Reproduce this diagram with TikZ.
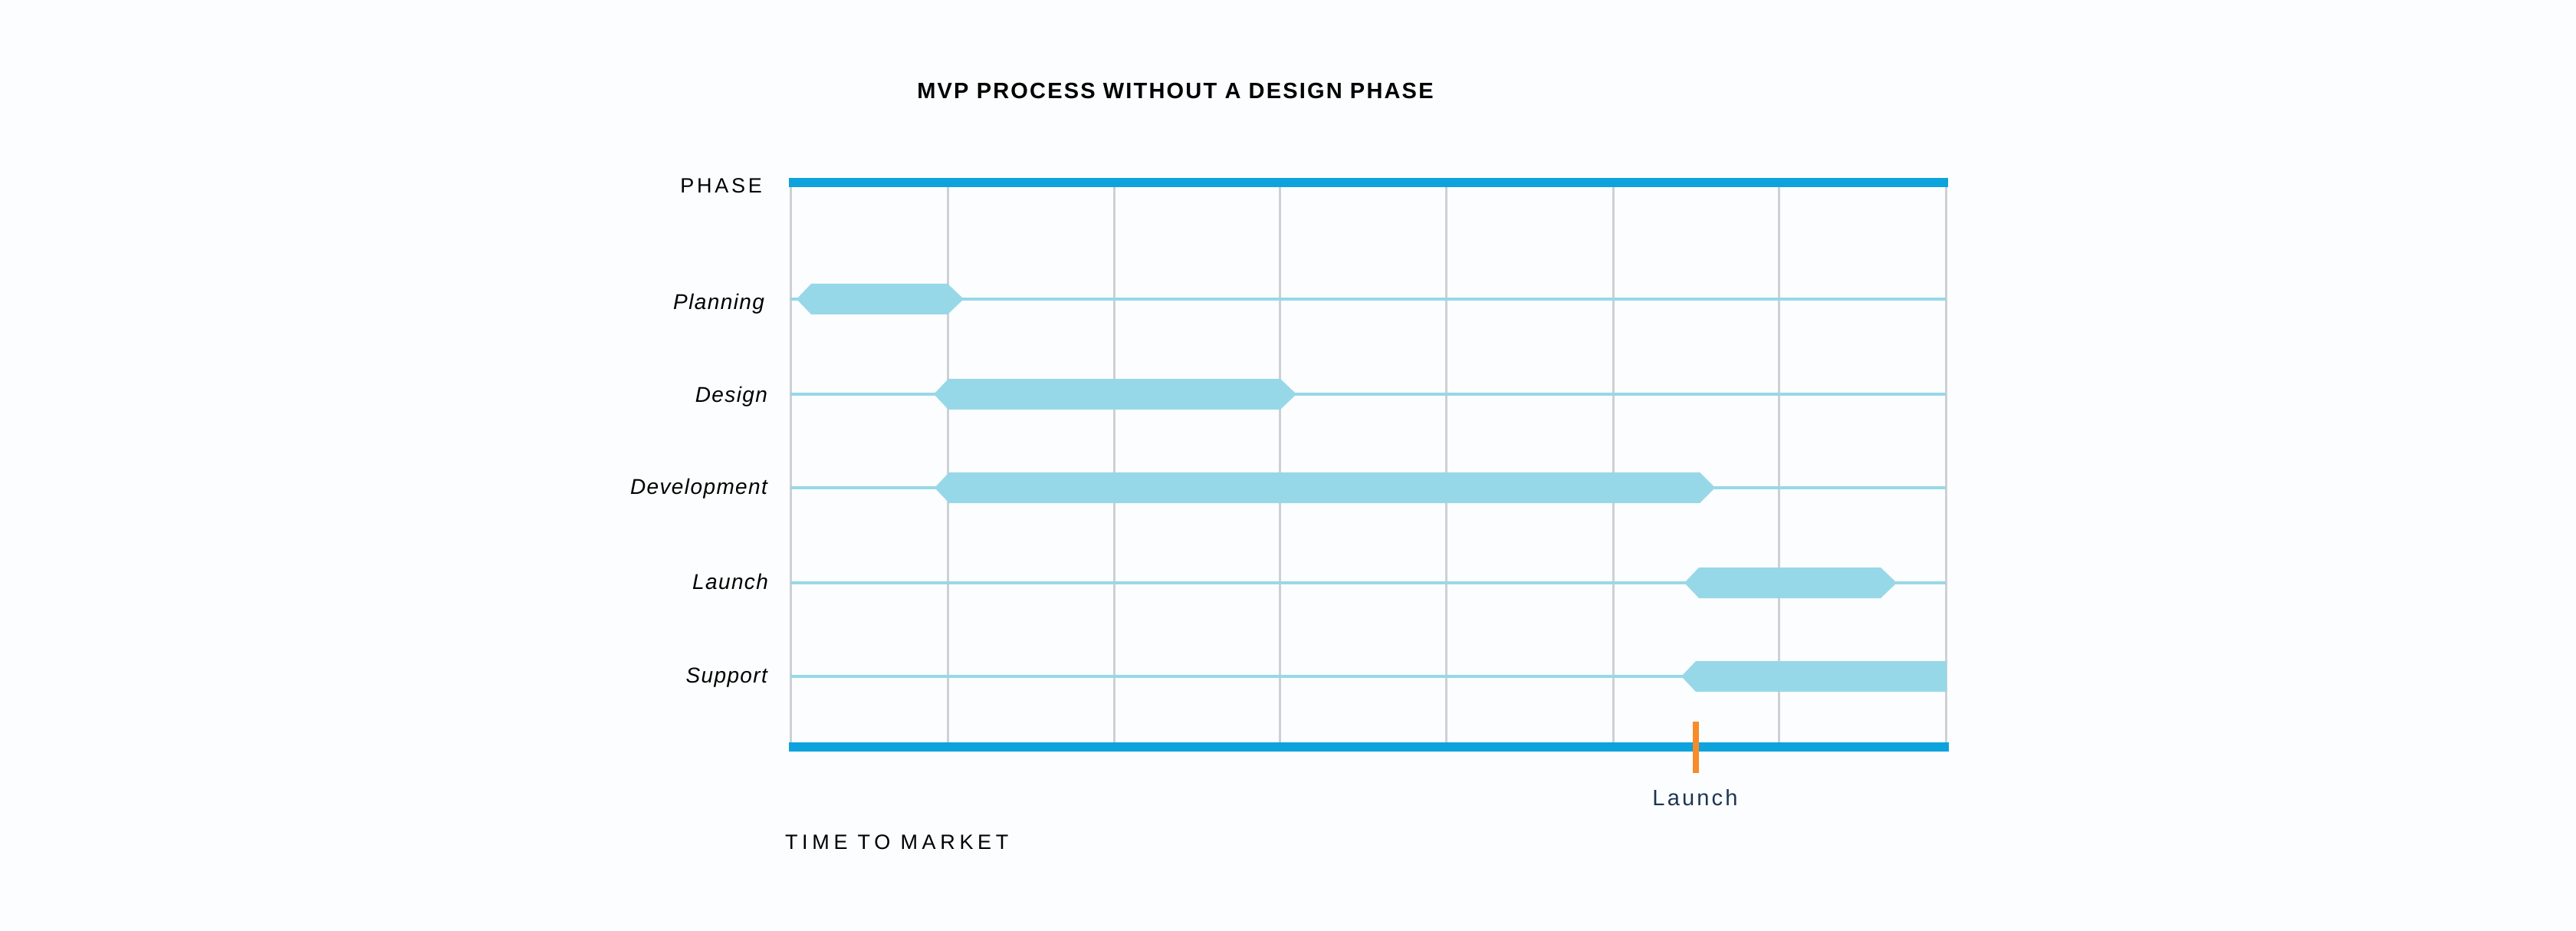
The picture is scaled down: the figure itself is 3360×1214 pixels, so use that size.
\documentclass[tikz,border=0pt]{standalone}
\usepackage{fontspec}
\setmainfont{Liberation Sans}
\newfontfamily\titlefont[LetterSpace=7.5]{Liberation Sans}
\newfontfamily\capsfont[LetterSpace=14]{Liberation Sans}
\newfontfamily\widecaps[LetterSpace=21]{Liberation Sans}
\newfontfamily\rowfont[LetterSpace=5]{Liberation Sans}
\newfontfamily\markfont[LetterSpace=11]{Liberation Sans}
\definecolor{bgc}{RGB}{252,253,254}
\definecolor{axisblue}{RGB}{14,163,220}
\definecolor{barblue}{RGB}{151,216,232}
\definecolor{gridgray}{RGB}{205,208,212}
\definecolor{launchorange}{RGB}{248,139,42}
\definecolor{navy}{RGB}{28,53,83}
\begin{document}
\begin{tikzpicture}[x=1pt,y=-1pt,
  txt/.style={inner sep=0pt,outer sep=0pt},
  rowlabel/.style={txt,anchor=base east,font=\rowfont\itshape\fontsize{28}{32}\selectfont},
  gridline/.style={draw=gridgray,line width=3pt},
  rowline/.style={draw=barblue,line width=4pt},
  axisbar/.style={fill=axisblue},
  ganttbar/.style={fill=barblue}]
\useasboundingbox[fill=bgc] (0,0) rectangle (3360,1214);
% title
\node[txt,anchor=base,font=\titlefont\bfseries\fontsize{29}{32}\selectfont] (title) at (1533,129) {MVP PROCESS WITHOUT A DESIGN PHASE};
\node[txt,anchor=base east,font=\capsfont\fontsize{27}{32}\selectfont] (phase) at (994,252) {PHASE};
\node[txt,anchor=base west,font=\widecaps\fontsize{27}{32}\selectfont] (ttm) at (1024,1107) {TIME TO MARKET};
% grid lines
\foreach \gx in {1031,1236,1453,1669,1886,2104,2320,2538}
  \draw[gridline] (\gx,244) -- (\gx,968);
% row lines
\foreach \ry in {390,514,636,760,882}
  \draw[rowline] (1031,\ry) -- (2538,\ry);
% bars
\fill[ganttbar] (1039,390) -- (1058,370) -- (1236,370) -- (1257,390) -- (1236,410) -- (1058,410) -- cycle;
\fill[ganttbar] (1218,514) -- (1237,494) -- (1670,494) -- (1691,514) -- (1670,534) -- (1237,534) -- cycle;
\fill[ganttbar] (1219,636) -- (1238,616) -- (2217,616) -- (2237,636) -- (2217,656) -- (1238,656) -- cycle;
\fill[ganttbar] (2197,760) -- (2216,740) -- (2453,740) -- (2474,760) -- (2453,780) -- (2216,780) -- cycle;
\fill[ganttbar] (2193,882) -- (2212,862) -- (2539,862) -- (2539,902) -- (2212,902) -- cycle;
% axis bars
\fill[axisbar] (1029,232) rectangle (2541,244);
\fill[axisbar] (1029,968) rectangle (2542,980);
% launch marker
\fill[launchorange] (2208,941) rectangle (2216,1008);
\node[txt,anchor=base,text=navy,font=\markfont\fontsize{29}{32}\selectfont] (launchmark) at (2211,1050) {Launch};
% row labels
\node[rowlabel] (planning) at (997,403) {Planning};
\node[rowlabel] (design) at (1001,524) {Design};
\node[rowlabel] (development) at (1001,644) {Development};
\node[rowlabel] (launch) at (1002,768) {Launch};
\node[rowlabel] (support) at (1001,890) {Support};
\end{tikzpicture}
\end{document}
